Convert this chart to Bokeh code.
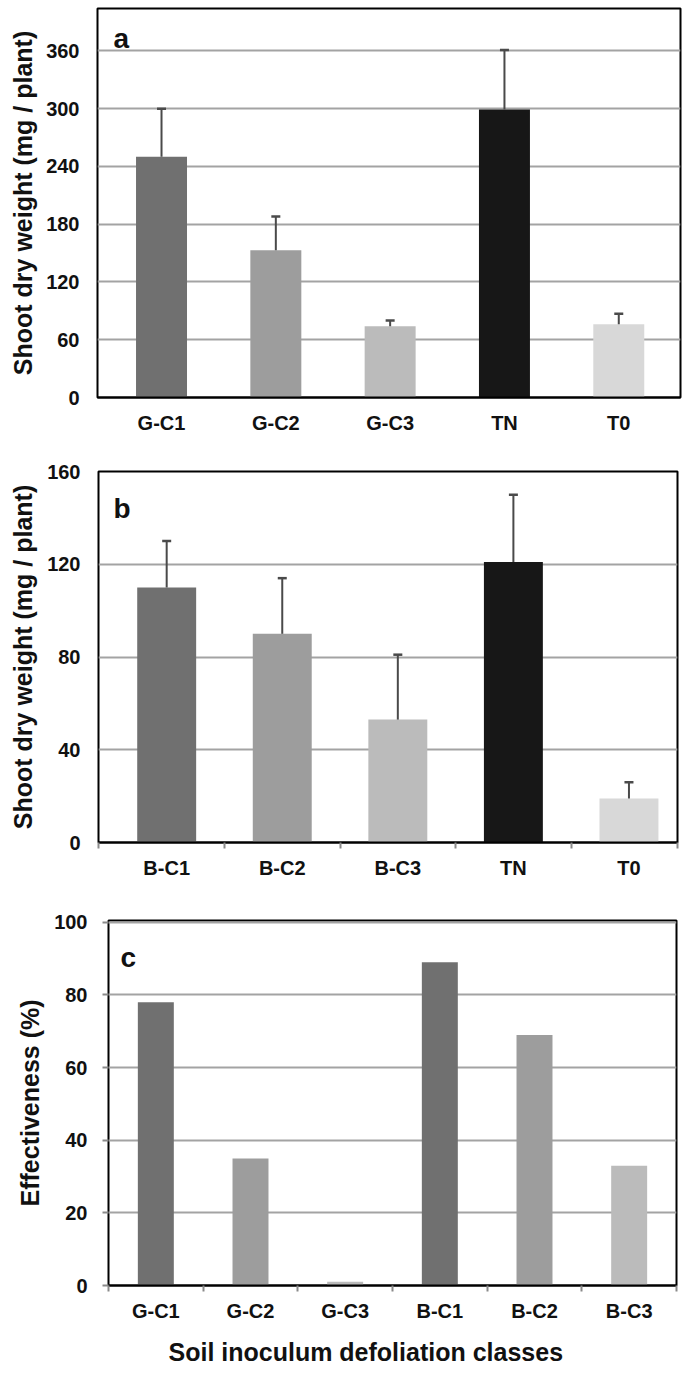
from bokeh.plotting import figure
from bokeh.models import Range1d, FixedTicker, ColumnDataSource, Whisker, TeeHead, Label, Title
from bokeh.embed import file_html
from bokeh.resources import INLINE

FONT = "Liberation Sans"

# ---- data ----
a_categories = ["G-C1", "G-C2", "G-C3", "TN", "T0"]
a_values = [250, 153, 74, 299, 76]
a_errors = [50, 35, 6, 62, 11]
a_yticks = [0, 60, 120, 180, 240, 300, 360]

b_categories = ["B-C1", "B-C2", "B-C3", "TN", "T0"]
b_values = [110, 90, 53, 121, 19]
b_errors = [20, 24, 28, 29, 7]
b_yticks = [0, 40, 80, 120, 160]

c_categories = ["G-C1", "G-C2", "G-C3", "B-C1", "B-C2", "B-C3"]
c_values = [78, 35, 1, 89, 69, 33]
c_yticks = [0, 20, 40, 60, 80, 100]

ab_colors = ["#707070", "#9d9d9d", "#bbbbbb", "#171717", "#d8d8d8"]
c_colors = ["#707070", "#9d9d9d", "#bbbbbb", "#707070", "#9d9d9d", "#bbbbbb"]

y_title_ab = "Shoot dry weight (mg / plant)"
y_title_c = "Effectiveness (%)"
x_title_c = "Soil inoculum defoliation classes"


def panel(cats, vals, errs, colors, xlim, ymax, yticks, letter, letter_x, letter_y,
          height, bl, br, bt, bb, bar_w, y_title, ytick_out, xtick_out,
          xstand, ystand, ylab_stand):
    n = len(cats)
    xs = [i + 0.5 for i in range(n)]
    p = figure(width=685, height=height, x_range=Range1d(*xlim), y_range=Range1d(0, ymax),
               output_backend="svg", toolbar_location=None,
               min_border_left=bl, min_border_right=br, min_border_top=bt, min_border_bottom=bb)
    data = dict(x=xs, top=vals, color=colors)
    if errs is not None:
        data["upper"] = [v + e for v, e in zip(vals, errs)]
    src = ColumnDataSource(data)
    p.vbar(x="x", top="top", width=bar_w, fill_color="color", line_color=None, source=src)
    if errs is not None:
        w = Whisker(source=src, base="x", upper="upper", lower="top", dimension="height",
                    line_color="#4a4a4a", line_width=2, level="overlay",
                    upper_head=TeeHead(size=9, line_color="#4a4a4a", line_width=2.5),
                    lower_head=None)
        p.add_layout(w)

    p.background_fill_color = "white"
    p.border_fill_color = "white"
    p.outline_line_color = "black"
    p.outline_line_width = 2
    p.xgrid.visible = False
    p.ygrid.ticker = FixedTicker(ticks=yticks[1:])
    p.ygrid.grid_line_color = "#a3a3a3"
    p.ygrid.grid_line_width = 2

    xa = p.xaxis[0]
    bounds = [xlim[0]] + list(range(1, n)) + [xlim[1]]
    xa.ticker = FixedTicker(ticks=xs, minor_ticks=bounds)
    xa.major_label_overrides = {x: c for x, c in zip(xs, cats)}
    xa.major_tick_in = 0
    xa.major_tick_out = 0
    xa.minor_tick_in = 0
    xa.minor_tick_out = xtick_out
    xa.minor_tick_line_color = "#8a8a8a" if xtick_out else None
    xa.minor_tick_line_width = 2
    xa.axis_line_color = "black"
    xa.axis_line_width = 2
    xa.major_label_standoff = xstand
    xa.major_label_text_font = FONT
    xa.major_label_text_font_style = "bold"
    xa.major_label_text_font_size = "20px"
    xa.major_label_text_color = "#111111"

    ya = p.yaxis[0]
    ya.ticker = FixedTicker(ticks=yticks)
    ya.major_tick_in = 0
    ya.major_tick_out = ytick_out
    ya.major_tick_line_color = "#8a8a8a" if ytick_out else None
    ya.major_tick_line_width = 2
    ya.minor_tick_line_color = None
    ya.axis_line_color = None
    ya.major_label_standoff = ystand
    ya.major_label_text_font = FONT
    ya.major_label_text_font_style = "bold"
    ya.major_label_text_font_size = "20px"
    ya.major_label_text_color = "#111111"
    ya.axis_label = y_title
    ya.axis_label_text_font = FONT
    ya.axis_label_text_font_style = "bold"
    ya.axis_label_text_font_size = "25px"
    ya.axis_label_text_color = "#111111"
    ya.axis_label_standoff = ylab_stand

    p.add_layout(Label(x=letter_x, y=letter_y, text=letter, text_font=FONT,
                       text_font_style="bold", text_font_size="28px",
                       text_color="#111111", text_align="left", text_baseline="alphabetic"))
    return p


pa = panel(a_categories, a_values, a_errors, ab_colors, (-0.06, 5.04), 404, a_yticks,
           "a", 0.08, 373,
           height=450, bl=97, br=5, bt=8, bb=53, bar_w=0.446, y_title=y_title_ab,
           ytick_out=0, xtick_out=0, xstand=14, ystand=18, ylab_stand=6)
pb = panel(b_categories, b_values, b_errors, ab_colors, (-0.09, 4.92), 160, b_yticks,
           "b", 0.04, 144,
           height=440, bl=98, br=8, bt=21, bb=48, bar_w=0.51, y_title=y_title_ab,
           ytick_out=0, xtick_out=6, xstand=8, ystand=18, ylab_stand=7)
pc = panel(c_categories, c_values, None, c_colors, (0, 6), 100.5, c_yticks,
           "c", 0.127, 90.3,
           height=486, bl=108, br=9, bt=30, bb=91, bar_w=0.38, y_title=y_title_c,
           ytick_out=6, xtick_out=6, xstand=8, ystand=15, ylab_stand=7)

pc.add_layout(Title(text=x_title_c, align="left", offset=60, standoff=22, text_font=FONT,
                    text_font_style="bold", text_font_size="25px", text_color="#111111"),
              "below")

open("out.html", "w").write(file_html([pa, pb, pc], INLINE))
